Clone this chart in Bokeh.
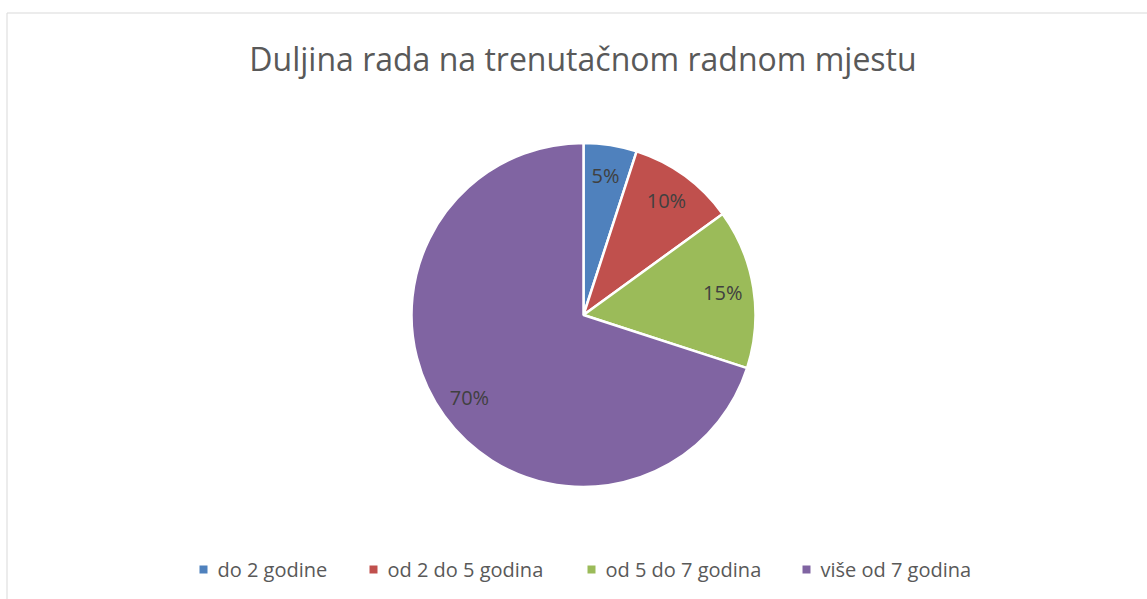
import math
from bokeh.plotting import figure
from bokeh.models import Range1d, ColumnDataSource
from bokeh.core.properties import value
from bokeh.embed import file_html
from bokeh.resources import INLINE

# ---- data ----
title_text = "Duljina rada na trenutačnom radnom mjestu"
categories = ["do 2 godine", "od 2 do 5 godina", "od 5 do 7 godina", "više od 7 godina"]
shares = [5, 10, 15, 70]
colors = ["#4F81BD", "#C0504D", "#9BBB59", "#8064A2"]

W, H = 1147, 599
p = figure(width=W, height=H, output_backend="svg", toolbar_location=None,
           x_range=Range1d(0, W), y_range=Range1d(0, H), min_border=0)
p.axis.visible = False
p.grid.visible = False
p.outline_line_color = None
p.background_fill_color = "white"
p.border_fill_color = "white"

def Y(py):
    return H - py

# chart border
p.quad(left=[6.5], right=[W + 10], top=[Y(12.5)], bottom=[-10],
       fill_color=None, line_color="#d9d9d9", line_width=1)

# pie
cx, cy, R = 583, Y(314.5), 172
total = sum(shares)
cum = 0.0
starts, ends, lx, ly, labels = [], [], [], [], []
for s in shares:
    f0 = cum / total
    f1 = (cum + s) / total
    cum += s
    starts.append(math.pi / 2 - 2 * math.pi * f1)
    ends.append(math.pi / 2 - 2 * math.pi * f0)
    fm = (f0 + f1) / 2
    a = math.pi / 2 - 2 * math.pi * fm
    rr = 0.82 * R
    lx.append(cx + rr * math.cos(a))
    ly.append(cy + rr * math.sin(a))
    labels.append(f"{s}%")

src = ColumnDataSource(dict(start=starts, end=ends, color=colors,
                            lx=lx, ly=ly, label=labels))
p.wedge(x=cx, y=cy, radius=R, start_angle="start", end_angle="end",
        direction="anticlock", fill_color="color", line_color="white",
        line_width=2.5, source=src)
p.text(x="lx", y="ly", text="label", source=src, text_align="center",
       text_baseline="middle", text_font=value("Open Sans"),
       text_font_size="20px", text_color="#404040")

# title
p.text(x=[582.5], y=[Y(58)], text=[title_text], text_align="center",
       text_baseline="middle", text_font=value("Open Sans"),
       text_font_size="32px", text_color="#595959")

# legend (manual)
leg_x = [203, 373, 591, 806]
leg_y = Y(569)
p.rect(x=leg_x, y=[leg_y] * 4, width=8, height=8, fill_color=colors,
       line_color=None)
p.text(x=[x + 14 for x in leg_x], y=[leg_y] * 4, text=categories,
       text_align="left", text_baseline="middle",
       text_font=value("Open Sans"), text_font_size="20px",
       text_color="#595959")

open("out.html", "w").write(file_html(p, INLINE))
